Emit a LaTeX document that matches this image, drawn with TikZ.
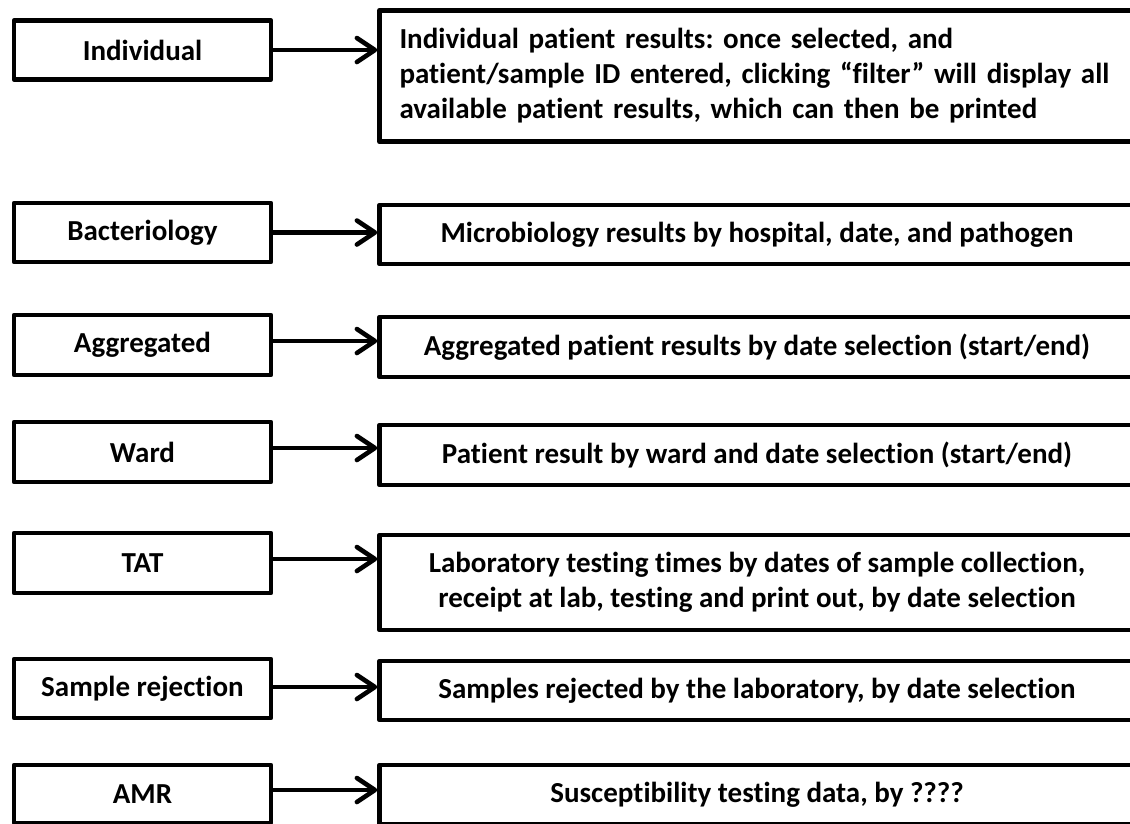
\documentclass[tikz,border=0pt]{standalone}
\usepackage{fontspec}
\setmainfont{Carlito}[Ligatures=NoCommon]
\usetikzlibrary{arrows.meta}
\begin{document}
\frenchspacing
\begin{tikzpicture}[x=1pt,y=-1pt,
  box/.style={draw, line width=4.6pt, line join=round, inner sep=0pt,
    font=\bfseries\fontsize{29}{35}\selectfont},
  lbox/.style={box, minimum width=257pt, minimum height=59pt},
  rbox/.style={box, minimum width=755pt, align=center},
  arr/.style={line width=4.6pt,
    -{Straight Barb[length=18pt,width=24pt,line cap=round,line join=round]}}]
\useasboundingbox (0,0) rectangle (1130,823);

% report types (left column)
\node[lbox] (l1) at (142.5,50) {Individual};
\node[lbox] (l2) at (142.5,232.5) {Bacteriology};
\node[lbox, minimum height=60pt] (l3) at (142.5,345) {Aggregated};
\node[lbox, minimum height=60pt] (l4) at (142.5,452) {Ward};
\node[lbox, minimum height=60pt] (l5) at (142.5,563) {TAT};
\node[lbox] (l6) at (142.5,688.5) {Sample rejection};
\node[lbox, minimum height=58pt] (l7) at (142.5,794) {AMR};

% descriptions (right column)
\node[rbox, minimum height=131.5pt, text width=715pt, align=left] (r1) at (757,76)
  {Individual patient results: once selected, and\\
   patient/sample ID entered, clicking “filter” will display all\\
   available patient results, which can then be printed};
\node[rbox, minimum height=59pt] (r2) at (757,234.5)
  {Microbiology results by hospital, date, and pathogen};
\node[rbox, minimum height=60pt] (r3) at (757,347)
  {Aggregated patient results by date selection (start/end)};
\node[rbox, minimum height=60pt] (r4) at (757,455)
  {Patient result by ward and date selection (start/end)};
\node[rbox, minimum height=95pt] (r5) at (757,582.5)
  {Laboratory testing times by dates of sample collection,\\
   receipt at lab, testing and print out, by date selection};
\node[rbox, minimum height=59pt] (r6) at (757,690.5)
  {Samples rejected by the laboratory, by date selection};
\node[rbox, minimum height=59pt] (r7) at (757,794.5)
  {Susceptibility testing data, by ????};

% connectors
\draw[arr] (l1.east) -- (l1.east -| r1.west);
\draw[arr] (l2.east) -- (l2.east -| r2.west);
\draw[arr] ([yshift=4pt]l3.east) -- ([yshift=4pt]l3.east -| r3.west);
\draw[arr] ([yshift=4pt]l4.east) -- ([yshift=4pt]l4.east -| r4.west);
\draw[arr] ([yshift=4pt]l5.east) -- ([yshift=4pt]l5.east -| r5.west);
\draw[arr] ([yshift=1.5pt]l6.east) -- ([yshift=1.5pt]l6.east -| r6.west);
\draw[arr] ([yshift=4pt]l7.east) -- ([yshift=4pt]l7.east -| r7.west);
\end{tikzpicture}
\end{document}
